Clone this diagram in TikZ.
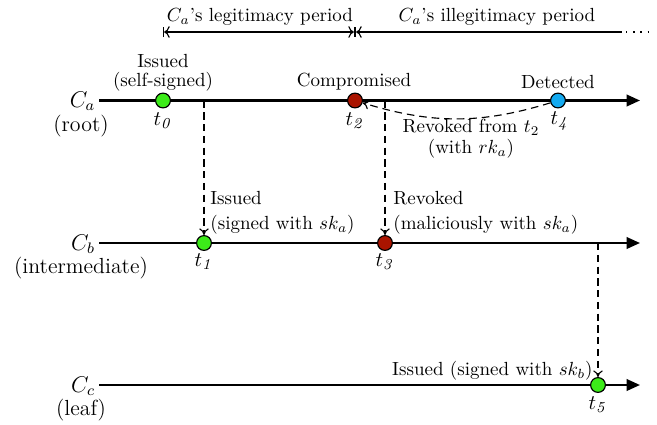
\documentclass[tikz,border=0pt]{standalone}
\usetikzlibrary{arrows.meta}
\definecolor{evgreen}{RGB}{60,235,25}
\definecolor{evred}{RGB}{170,20,0}
\definecolor{evblue}{RGB}{20,170,240}
\begin{document}
\begin{tikzpicture}[x=0.5263pt,y=-0.5263pt,
  tl/.style={line width=1.2pt,-{Triangle[length=7pt,width=6pt]}},
  ev/.style={circle,draw=black,line width=0.6pt,minimum size=7.8pt,inner sep=0pt},
  dsh/.style={line width=0.6pt,dash pattern=on 3.8pt off 2.4pt,-{To[length=3.5pt,width=5pt]}},
  per/.style={line width=0.6pt},
  txt/.style={inner sep=0pt,align=center},
  rowlab/.style={txt,font=\fontsize{11.5}{13}\selectfont},
  tlab/.style={txt,font=\fontsize{11}{13}\selectfont}]
\useasboundingbox (0,0) rectangle (657,424);

% period line
\coordinate (p0) at (163,32);
\coordinate (p1) at (355,32);
\coordinate (p2) at (622,32);
\coordinate (p3) at (626,32);
\coordinate (p4) at (652,32);
\draw[per,|<->|] (p0) -- (p1);
\draw[per,|<-] (p1) -- (p2);
\draw[line width=0.7pt,dash pattern=on 0.7pt off 3.1pt] (p3) -- (p4);
\node[txt] (legit) at (260,17) {$C_a$'s legitimacy period};
\node[txt] (illegit) at (497,17) {$C_a$'s illegitimacy period};

% timelines
\coordinate (a0) at (99,100.5); \coordinate (a1) at (640,100.5);
\coordinate (b0) at (99,243);   \coordinate (b1) at (640,243);
\coordinate (c0) at (99,385);   \coordinate (c1) at (640,385);
\draw[tl] (a0) -- (a1);
\draw[tl] (b0) -- (b1);
\draw[tl] (c0) -- (c1);

% row labels
\node[rowlab] (la) at (82.5,101) {$C_a$};
\node[rowlab] (lar) at (81,126) {(root)};
\node[rowlab] (lb) at (83,244) {$C_b$};
\node[rowlab] (lbr) at (81,268) {(intermediate)};
\node[rowlab] (lc) at (83,386) {$C_c$};
\node[rowlab] (lcr) at (81,410) {(leaf)};

% events
\node[ev,fill=evgreen] (t0) at (163,100.5) {};
\node[ev,fill=evred]   (t2) at (355,100.5) {};
\node[ev,fill=evblue]  (t4) at (558,100.5) {};
\node[ev,fill=evgreen] (t1) at (204,243) {};
\node[ev,fill=evred]   (t3) at (385,243) {};
\node[ev,fill=evgreen] (t5) at (598,385) {};

% connector start points
\coordinate (d1) at (204,100.5);
\coordinate (d2) at (385,100.5);
\coordinate (d3) at (598,243);
\draw[dsh] (d1) -- (t1);
\draw[dsh] (d2) -- (t3);
\draw[dsh] (d3) -- (t5);
\draw[dsh,dash pattern=on 4pt off 2.6pt] (t4) to[bend left=17] (t2);

% time labels
\node[tlab] (lt0) at (163,121) {$t_{\mathit{0}}$};
\node[tlab] (lt2) at (355,121) {$t_{\mathit{2}}$};
\node[tlab] (lt4) at (560,121) {$t_{\mathit{4}}$};
\node[tlab] (lt1) at (204,262) {$t_{\mathit{1}}$};
\node[tlab] (lt3) at (385,262) {$t_{\mathit{3}}$};
\node[tlab] (lt5) at (598,405) {$t_{\mathit{5}}$};

% event labels
\node[txt] (issa) at (163,73) {Issued\\[-2pt](self-signed)};
\node[txt] (comp) at (354,82) {Compromised};
\node[txt] (det) at (558,82) {Detected};
\node[txt] (revf) at (471,139) {Revoked from $t_2$\\[-1pt](with $rk_a$)};
\node[txt,align=left,anchor=west] (issb) at (210,213) {Issued\\[1pt](signed with $sk_a$)};
\node[txt,align=left,anchor=west] (revb) at (393,213) {Revoked\\[1pt](maliciously with $sk_a$)};
\node[txt,anchor=east] (issc) at (593,371) {Issued (signed with $sk_b$)};
\end{tikzpicture}
\end{document}
